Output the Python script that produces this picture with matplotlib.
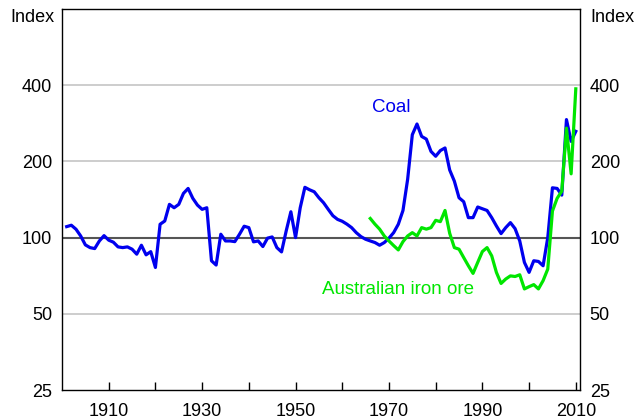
import matplotlib
matplotlib.use("Agg")
import matplotlib.pyplot as plt
from matplotlib.ticker import FixedLocator, NullLocator

plt.rcParams['font.family'] = ['Liberation Sans', 'DejaVu Sans']

# Coal index, 1901-2010 (log scale values)
coal_years = list(range(1901, 2011))
coal = [110.5, 111.9, 107.9, 101.5, 93.6, 91.3, 90.5, 97, 101.8, 97.7,
        95.9, 91.9, 91.3, 91.9, 90, 86, 93.3, 85.5, 88, 76.2,
        112.9, 116.3, 135.3, 131.2, 135.3, 149.5, 156.4, 143, 134.4, 129.3,
        131.2, 81, 77.9, 103.1, 97, 97, 96.4, 103.1, 110.9, 109.5,
        96.2, 97, 92.2, 99.5, 100.6, 91.3, 87.8, 106.3, 126.5, 100,
        131.2, 158, 154.5, 151.7, 143.7, 137.3, 129.3, 122, 118, 116,
        113, 109.5, 104.6, 100.9, 98.5, 97, 95.6, 93.3, 95.6, 99.5,
        104.6, 112.9, 128, 170, 255, 281, 251, 245, 219, 209.6,
        220.7, 226, 185, 167.1, 143.7, 138.6, 119.9, 119.9, 132.1, 130,
        128, 119.9, 111.2, 103.7, 109.5, 114.6, 108.5, 97, 79.8, 72.9,
        81, 80.5, 77.4, 100, 157.3, 156.4, 147.2, 292.6, 240, 262.8]

# Australian iron ore index, 1966-2010
iron_years = list(range(1966, 2011))
iron = [119, 113, 108, 101.5, 97, 93, 89.4, 96.4, 101.5, 104.6,
        101.5, 109.5, 108, 109.5, 117, 115.6, 128, 104, 91.3, 90,
        83.4, 77.4, 72.2, 79.8, 88.1, 91.3, 84.7, 72.9, 65.9, 68.6,
        70.6, 70.2, 71.3, 62.7, 64, 65.2, 62.7, 67.6, 75.1, 127.3,
        142.9, 152.6, 270.7, 178.6, 387]

y_ticks = [25, 50, 100, 200, 400]
x_ticks = list(range(1910, 2011, 10))
x_labels = [str(y) if (y - 1910) % 20 == 0 else '' for y in x_ticks]

W, H = 635, 419
fig = plt.figure(figsize=(W / 100, H / 100), dpi=100)
ax = fig.add_axes([62 / W, 29 / H, 518 / W, 381 / H])

ax.set_yscale('log')
ax.set_ylim(25, 800)
ax.set_xlim(1900, 2010.9)

for v in y_ticks:
    if v == 100:
        ax.axhline(v, color='#555555', lw=1.5, zorder=1)
    elif v != 25:
        ax.axhline(v, color='#c0c0c0', lw=1.1, zorder=1)

ax.plot(coal_years, coal, color='#0000ee', lw=2.3, zorder=3)
ax.plot(iron_years, iron, color='#00e600', lw=2.3, zorder=4)

fig.text(391 / W, 1 - 108 / H, 'Coal', color='#0000ee', fontsize=13.5,
         ha='center', va='center')
fig.text(398 / W, 1 - 289 / H, 'Australian iron ore', color='#00e600',
         fontsize=13.5, ha='center', va='center')

ax.yaxis.set_major_locator(FixedLocator(y_ticks))
ax.yaxis.set_minor_locator(NullLocator())
ax.set_yticklabels([str(v) for v in y_ticks])
ax.tick_params(axis='y', which='both', length=0, labelsize=13, pad=7,
               labelleft=True, labelright=True)

ax.set_xticks(x_ticks)
ax.set_xticklabels(x_labels)
ax.tick_params(axis='x', direction='in', length=6, width=1, labelsize=13,
               pad=9, top=False)

for s in ax.spines.values():
    s.set_linewidth(1.0)
    s.set_color('black')

fig.text(10 / W, 1 - 17 / H, 'Index', fontsize=13, ha='left', va='center')
fig.text(590 / W, 1 - 17 / H, 'Index', fontsize=13, ha='left', va='center')

fig.savefig('out.png', dpi=100)
